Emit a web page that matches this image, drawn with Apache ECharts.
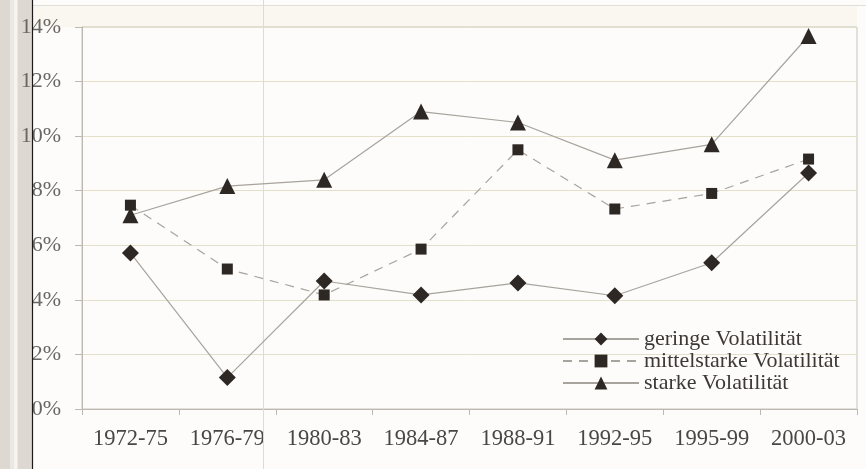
<!DOCTYPE html>
<html>
<head>
<meta charset="utf-8">
<script src="https://cdn.jsdelivr.net/npm/echarts@6/dist/echarts.min.js"></script>
<style>
html,body{margin:0;padding:0;background:#fdfcfa;}
#chart{width:866px;height:469px;}
</style>
</head>
<body>
<div id="chart"></div>
<script>
var categories = ['1972-75','1976-79','1980-83','1984-87','1988-91','1992-95','1995-99','2000-03'];
var geringe = [5.72, 1.15, 4.69, 4.18, 4.62, 4.15, 5.36, 8.65];
var mittel = [7.47, 5.13, 4.18, 5.86, 9.5, 7.33, 7.9, 9.16];
var starke = [7.1, 8.17, 8.4, 10.9, 10.5, 9.12, 9.7, 13.67];
var yTicks = [0, 2, 4, 6, 8, 10, 12, 14];

var font = 'Liberation Serif';
var chart = echarts.init(document.getElementById('chart'));
var lineCol = '#a8a39c';
var markCol = '#2e2825';
function mk(name, data, symbol, size, dashed) {
  return {
    name: name, type: 'line', data: data, symbol: symbol, symbolSize: size,
    itemStyle: {color: markCol},
    lineStyle: {color: lineCol, width: 1.2, type: dashed ? [9, 7] : 'solid'},
    z: 5
  };
}
chart.setOption({
  backgroundColor: '#fdfcfa',
  animation: false,
  grid: {left: 82, right: 9, top: 27, bottom: 60, show: true, borderColor: '#c9c5bd', borderWidth: 1},
  xAxis: {
    type: 'category', data: categories, boundaryGap: true,
    axisLine: {lineStyle: {color: '#bdb9b2'}},
    axisTick: {show: true, interval: 0, length: 6, lineStyle: {color: '#bdb9b2'}},
    axisLabel: {interval: 0, color: '#4a4644', fontFamily: font, fontSize: 22.5, margin: 19},
    splitLine: {show: false}
  },
  yAxis: {
    type: 'value', min: yTicks[0], max: yTicks[yTicks.length-1], interval: 2,
    axisLine: {show: true, lineStyle: {color: '#bdb9b2'}},
    axisTick: {show: true, length: 7, lineStyle: {color: '#bdb9b2'}},
    axisLabel: {color: '#6a6664', fontFamily: font, fontSize: 22, margin: 21, formatter: '{value}%'},
    splitLine: {lineStyle: {color: '#e4dfc9', width: 1}}
  },
  legend: {
    orient: 'vertical', left: 557, top: 323, itemGap: 0, itemWidth: 76, itemHeight: 16,
    textStyle: {color: '#3e3835', fontFamily: font, fontSize: 22, lineHeight: 22, padding: [0,0,0,0]},
    data: ['geringe Volatilität', 'mittelstarke Volatilität', 'starke Volatilität']
  },
  series: [
    mk('geringe Volatilität', geringe, 'diamond', 17, false),
    mk('mittelstarke Volatilität', mittel, 'rect', 11, true),
    mk('starke Volatilität', starke, 'triangle', 16, false)
  ],
  graphic: [
    {type: 'rect', shape: {x: 0, y: 0, width: 32, height: 469}, style: {fill: '#ddd8d2'}, z: -10},
    {type: 'rect', shape: {x: 10, y: 0, width: 8, height: 469}, style: {fill: '#ebe7e2'}, z: -9},
    {type: 'rect', shape: {x: 14, y: 0, width: 3, height: 469}, style: {fill: '#f6f4f1'}, z: -9},
    {type: 'line', shape: {x1: 32.5, y1: 0, x2: 32.5, y2: 469}, style: {stroke: '#1a1a1a', lineWidth: 1.2}, z: 10},
    {type: 'line', shape: {x1: 33, y1: 5.5, x2: 866, y2: 5.5}, style: {stroke: '#e2ded8', lineWidth: 1}, z: -5},
    {type: 'rect', shape: {x: 33, y: 6, width: 824, height: 21}, style: {fill: '#faf7f0'}, z: -6},
    {type: 'line', shape: {x1: 263.5, y1: 0, x2: 263.5, y2: 469}, style: {stroke: '#dedad4', lineWidth: 1}, z: 1}
  ]
});
</script>
</body>
</html>
